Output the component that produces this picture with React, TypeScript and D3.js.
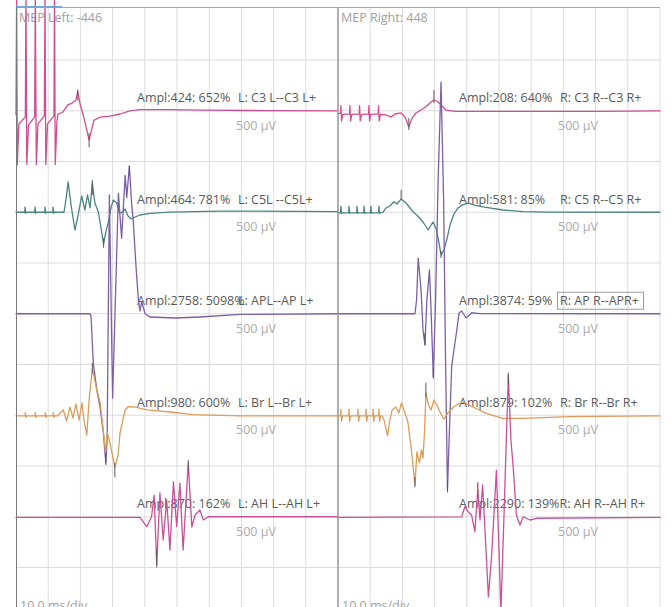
import React from 'react';
import * as d3 from 'd3';

// MEP recording, two sides, five channels each. time in ms, amplitude in µV
const W = 672;
const H = 607;

const channelNames = ['C3', 'C5', 'AP', 'Br', 'AH'];
const traceColors = ['#d64b8f', '#4e8383', '#7d5fa6', '#dc9c5a', '#c9519a'];

const leftC3 = [[0,-40],[0.2,1150],[0.4,-530],[0.9,-130],[2.9,-60],[3.1,1150],[3.35,-530],[3.9,-140],[5.8,-60],[6.0,1150],[6.3,-530],[6.8,-130],[8.8,-50],[9.0,1150],[9.25,-530],[9.8,-130],[11.8,-50],[11.95,1150],[12.2,-530],[12.7,-110],[13.0,-35],[14.6,-12],[16.1,57],[17.4,76],[18.6,106],[19.2,190],[19.9,66],[21.1,-71],[22.7,-290],[23.3,-210],[24.2,-95],[26.1,-62],[29.2,-52],[32.3,-32],[35.4,-2],[38.5,12],[47.8,12],[57.1,7],[75.8,2],[100,-2]];
const leftC5 = [[0,0],[2.7,0],[2.8,50],[3.0,-10],[3.3,0],[5.8,0],[5.9,50],[6.1,-10],[6.4,0],[8.9,0],[9.0,50],[9.2,-10],[9.5,0],[11.4,0],[11.5,50],[11.7,-10],[12.0,0],[14.9,0],[15.5,120],[16.2,300],[17.1,70],[18.3,-175],[19.3,-27],[20.4,160],[21.4,22],[22.2,170],[23.0,42],[23.7,288],[24.5,91],[25.6,0],[26.4,-155],[27.2,-313],[27.9,-195],[28.7,-96],[29.5,42],[30.2,120],[31.3,91],[32.0,0],[32.8,-7],[33.9,32],[34.8,-37],[35.7,-66],[37.0,-47],[38.5,-27],[41.6,-12],[47.8,2],[63.4,12],[100,7]];
const leftAP = [[0,0],[23.0,0],[23.3,-20],[24.0,-485],[25.1,-750],[26.1,-920],[27.1,-1165],[27.9,-1470],[28.3,-1240],[29.0,1170],[30.0,-830],[31.8,1187],[32.8,744],[33.9,1364],[34.4,1147],[35.2,1453],[35.9,1088],[36.4,921],[37.3,450],[38.0,135],[38.5,27],[39.0,116],[39.4,76],[40.1,0],[41.6,-32],[49.4,-42],[57.1,-32],[69.6,-7],[100,0]];
const leftBr = [[0,-7],[2.8,-7],[2.9,25],[3.1,-20],[3.4,-7],[5.9,-7],[6.0,25],[6.2,-20],[6.5,-7],[9.0,-7],[9.1,25],[9.3,-20],[9.6,-7],[11.5,-7],[11.6,25],[11.8,-20],[12.1,-7],[13.0,-7],[13.7,22],[14.7,52],[15.7,-57],[16.8,81],[17.7,-27],[18.6,111],[19.6,-47],[20.5,121],[21.1,-47],[22.0,-195],[22.7,150],[23.7,456],[25.1,249],[26.1,130],[27.1,-145],[27.8,-362],[28.4,-175],[29.2,-274],[30.7,-510],[31.7,-392],[32.3,-175],[33.9,52],[34.9,86],[37.0,81],[40.7,52],[47.8,32],[55.0,7],[69.6,-7],[100,-7]];
const leftAH = [[0,-7],[20,-7],[38.5,-7],[40.6,-98],[42.1,0],[42.9,214],[43.7,-475],[44.7,234],[45.7,-229],[46.8,165],[47.8,-328],[48.9,345],[49.9,-98],[50.9,332],[51.9,-328],[53.5,529],[54.6,-101],[55.6,17],[57.1,66],[58.2,-32],[59.7,0],[100,0]];

const rightC3 = [[0,-25],[0.8,-25],[0.9,50],[1.1,-100],[1.5,-35],[3.6,-30],[3.7,50],[3.9,-100],[4.3,-35],[6.6,-30],[6.7,50],[6.9,-100],[7.3,-35],[9.5,-30],[9.6,50],[9.8,-100],[10.2,-35],[12.5,-30],[12.6,50],[12.8,-100],[13.2,-35],[14.9,-42],[16.5,-62],[17.7,-32],[19.6,-22],[20.8,-62],[22.0,-161],[23.0,-72],[24.2,-22],[25.8,7],[27.3,40],[28.9,86],[29.8,106],[30.7,96],[31.7,66],[33.5,7],[36.3,-7],[81.4,-7],[100,-2]];
const rightC5 = [[0,-7],[0.8,-7],[0.9,60],[1.1,-10],[1.4,-7],[3.3,-7],[3.4,60],[3.6,-10],[3.9,-7],[5.8,-7],[5.9,60],[6.1,-10],[6.4,-7],[8.0,-7],[8.1,60],[8.3,-10],[8.6,-7],[10.1,-7],[10.2,60],[10.4,-10],[10.7,-7],[12.6,-7],[12.7,60],[12.9,-10],[13.2,-7],[14.0,0],[14.9,42],[16.1,62],[17.4,104],[18.3,81],[19.6,130],[21.1,91],[23.3,5],[24.8,-37],[26.4,-96],[28.0,-175],[29.5,-96],[30.4,-155],[31.2,-273],[32.0,-421],[32.9,-372],[33.9,-254],[34.8,-125],[36.0,-17],[37.3,42],[38.5,71],[40.4,91],[42.5,71],[45.0,52],[51.2,22],[57.5,7],[65.5,2],[100,0]];
const rightAP = [[0,0],[23.9,0],[24.4,135],[24.9,549],[25.8,234],[26.4,-160],[27.0,-308],[27.6,135],[28.4,431],[28.9,37],[29.6,-623],[30.3,135],[31.1,1317],[32.0,2283],[32.8,1120],[33.4,-455],[34.0,-1736],[34.5,-1243],[35.3,-524],[36.0,-357],[36.9,-160],[37.6,7],[38.4,27],[39.8,-42],[41.5,10],[44.1,2],[100,0]];
const rightBr = [[0,-7],[0.8,-7],[0.9,60],[1.1,-60],[1.4,-7],[3.3,-7],[3.4,60],[3.6,-60],[3.9,-7],[6.1,-7],[6.2,60],[6.4,-60],[6.7,-7],[8.6,-7],[8.7,60],[8.9,-60],[9.2,-7],[10.8,-7],[10.9,60],[11.1,-60],[11.4,-7],[12.6,-7],[12.7,60],[12.9,-60],[13.2,-7],[13.7,-7],[14.3,-47],[15.4,-204],[16.1,-47],[16.8,52],[18.0,81],[18.9,22],[19.7,121],[20.5,52],[21.7,-66],[22.8,-342],[23.9,-687],[24.5,-362],[25.3,-470],[25.9,-342],[26.4,-421],[26.9,-145],[27.3,219],[28.1,101],[28.9,52],[29.8,150],[30.7,101],[31.7,32],[32.8,-37],[34.1,22],[36.0,84],[38.7,133],[41.8,84],[46.0,19],[51.1,-30],[57.3,-30],[71.7,-14],[100,-7]];
const rightAH = [[0,-7],[38.4,-2],[39.4,99],[40.4,50],[41.5,17],[42.5,-147],[43.4,263],[44.1,-32],[44.9,313],[45.7,-160],[46.7,-790],[47.7,-387],[49.2,460],[50.6,-930],[51.7,165],[52.9,1396],[53.7,756],[54.4,493],[55.4,17],[56.5,-81],[57.5,0],[59.6,-32],[61.7,-15],[100,-7]];

// latency cursors: [channel, ms, µV from, µV to]
const leftMarkers = [[0,19.2,100,210],[0,22.7,-220,-360],[1,23.7,170,320],[1,27.2,-255,-350],[2,27.9,-1370,-1490],[2,35.2,1370,1460],[3,23.7,420,515],[3,30.7,-470,-610],[4,43.7,-330,-500],[4,53.5,460,560]];
const rightMarkers = [[0,22.0,-70,-190],[0,29.8,76,205],[1,19.6,120,220],[1,32.0,-380,-450],[2,27.0,-190,-310],[2,29.6,-530,-640],[2,34.0,-1640,-1760],[3,23.9,-610,-710],[3,27.3,180,320],[4,52.9,1300,1420]];
const rightRedMarkers = [[4,43.4,195,340]];

const leftAmpl = ['Ampl:424: 652%', 'Ampl:464: 781%', 'Ampl:2758: 5098%', 'Ampl:980: 600%', 'Ampl:870: 162%'];
const leftChan = ['L: C3 L--C3 L+', 'L: C5L --C5L+', 'L: APL--AP L+', 'L: Br L--Br L+', 'L: AH L--AH L+'];
const rightAmpl = ['Ampl:208: 640%', 'Ampl:581: 85%', 'Ampl:3874: 59%', 'Ampl:879: 102%', 'Ampl:2290: 139%'];
const rightChan = ['R: C3 R--C3 R+', 'R: C5 R--C5 R+', 'R: AP R--APR+', 'R: Br R--Br R+', 'R: AH R--AH R+'];
const scaleLabel = '500 µV';
const timebase = '10.0 ms/div';

// chanDx null = channel name runs straight on after the amplitude
const panels = [
  { title: 'MEP Left: -446', x0: 16, traces: [leftC3, leftC5, leftAP, leftBr, leftAH], markers: leftMarkers, red: [], ampl: leftAmpl, chan: leftChan, chanDx: [222, 222, 222, 222, 222], boxed: -1 },
  { title: 'MEP Right: 448', x0: 338, traces: [rightC3, rightC5, rightAP, rightBr, rightAH], markers: rightMarkers, red: rightRedMarkers, ampl: rightAmpl, chan: rightChan, chanDx: [222, 222, 222, 222, null], boxed: 2 },
];

const panelW = 322;
const font = '"Open Sans", "Noto Sans", sans-serif';

export default function App() {
  const gridY = d3.scaleLinear().domain([0, 12]).range([9.25, 618.25]);
  const yOf = (ch: number, v: number) => gridY(2 * (ch + 1) - v / 500);

  return (
    <div style={{ position: 'absolute', left: 0, top: 0 }}>
      <svg width={W} height={H} style={{ display: 'block', background: '#fff' }}>
        {panels.map((p, pi) => {
          const x = d3.scaleLinear().domain([0, 100]).range([p.x0, p.x0 + panelW]);
          const ticks = d3.range(10, 101, 10);
          const rows = d3.range(1, 12);
          return (
            <g key={pi}>
              {ticks.map(t => (
                <line key={'v' + t} x1={x(t)} x2={x(t)} y1={7} y2={H} stroke="#dcdcdc" strokeWidth={1} />
              ))}
              {rows.map(r => (
                <line key={'h' + r} x1={p.x0} x2={p.x0 + panelW} y1={gridY(r)} y2={gridY(r)} stroke="#dcdcdc" strokeWidth={1} />
              ))}
              <text x={p.x0 + 3} y={21.5} fill="#a0a0a0" fontSize={12.5} fontFamily={font}>{p.title}</text>
              <text x={p.x0 + 4} y={609.5} fill="#a0a0a0" fontSize={12.5} fontFamily={font}>{timebase}</text>
              {channelNames.map((c, ci) => {
                const base = yOf(ci, 0);
                const dx = p.chanDx[ci];
                return (
                  <g key={c}>
                    {dx === null ? (
                      <text x={p.x0 + 121} y={base - 8.5} fill="#5a5a5a" fontSize={12.5} fontFamily={font}>{p.ampl[ci] + p.chan[ci]}</text>
                    ) : (
                      <>
                        <text x={p.x0 + 121} y={base - 8.5} fill="#5a5a5a" fontSize={12.5} fontFamily={font}>{p.ampl[ci]}</text>
                        <text x={p.x0 + dx} y={base - 8.5} fill="#5a5a5a" fontSize={12.5} fontFamily={font}>{p.chan[ci]}</text>
                      </>
                    )}
                    {p.boxed === ci && dx !== null && (
                      <rect x={p.x0 + dx - 2.5} y={base - 21.5} width={86} height={17} fill="none" stroke="#9a9a9a" strokeWidth={1} />
                    )}
                    <text x={p.x0 + 220} y={base + 19} fill="#ababab" fontSize={12.5} fontFamily={font}>{scaleLabel}</text>
                  </g>
                );
              })}
              {p.traces.map((tr, ci) => {
                const line = d3.line<number[]>()
                  .x(d => x(d[0]))
                  .y(d => yOf(ci, d[1]));
                return (
                  <path key={'t' + ci} d={line(tr) || ''} fill="none" stroke={traceColors[ci]}
                        strokeWidth={1.3} strokeLinejoin="round" strokeLinecap="round" />
                );
              })}
              {p.markers.map((m, mi) => (
                <line key={'m' + mi} x1={x(m[1])} x2={x(m[1])} y1={yOf(m[0], m[2])} y2={yOf(m[0], m[3])} stroke="#5a5a5a" strokeWidth={1} />
              ))}
              {p.red.map((m, mi) => (
                <line key={'r' + mi} x1={x(m[1])} x2={x(m[1])} y1={yOf(m[0], m[2])} y2={yOf(m[0], m[3])} stroke="#e0303a" strokeWidth={1.2} />
              ))}
            </g>
          );
        })}
        <line x1={16} x2={660} y1={7.5} y2={7.5} stroke="#a8a8a8" strokeWidth={1} />
        <line x1={16} x2={62} y1={7} y2={7} stroke="#6fa8dc" strokeWidth={2} />
        <line x1={16.5} x2={16.5} y1={7} y2={H} stroke="#7a7a7a" strokeWidth={1} />
        <line x1={338} x2={338} y1={7} y2={H} stroke="#9a9a9a" strokeWidth={1.5} />
      </svg>
    </div>
  );
}
